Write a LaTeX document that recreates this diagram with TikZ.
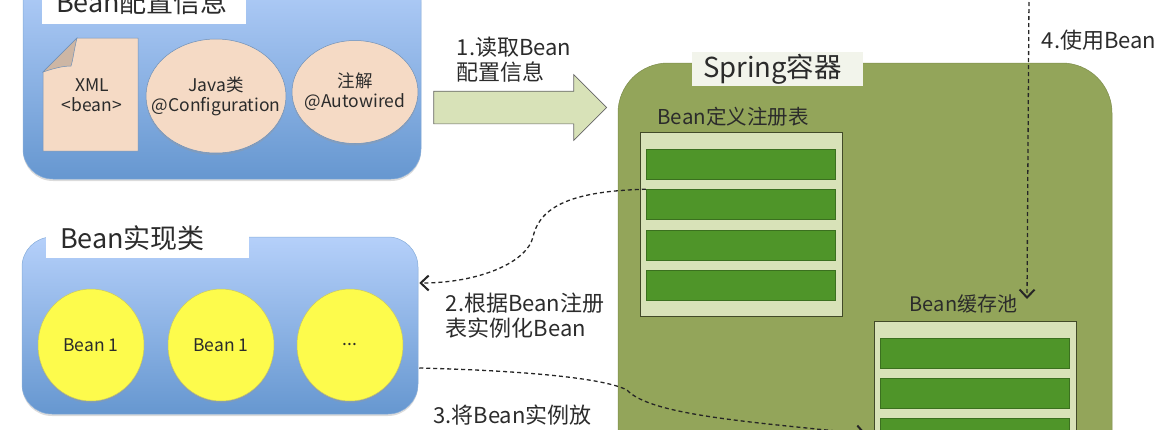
\documentclass[tikz,border=0pt]{standalone}
\usepackage{fontspec}
\setmainfont{Noto Sans CJK SC}
\usetikzlibrary{arrows.meta,shadows,shapes.geometric,shapes.arrows}
\definecolor{boxtop}{HTML}{B5D0FA}
\definecolor{boxbot}{HTML}{6697D0}
\definecolor{skin}{HTML}{F5DAC5}
\definecolor{foldc}{HTML}{CDB6A4}
\definecolor{moss}{HTML}{93A55A}
\definecolor{pale}{HTML}{D8E2B8}
\definecolor{rowgreen}{HTML}{4F9529}
\definecolor{sun}{HTML}{FDFB4C}
\definecolor{ink}{HTML}{2B2B2B}
\newcommand{\fs}[2]{\fontsize{#1}{#2}\selectfont}
\begin{document}
\begin{tikzpicture}[x=1pt,y=-1pt]
\tikzset{
  softshadow/.style={drop shadow={shadow xshift=0pt,shadow yshift=-2pt,fill=black!40,opacity=.35}},
  groupbox/.style={rectangle,rounded corners=30pt,top color=boxtop,bottom color=boxbot,draw=boxbot!80!white,line width=.5pt,inner sep=0pt,softshadow},
  titlebox/.style={rectangle,fill=white,inner ysep=0pt,inner xsep=14pt,align=left,text=ink,font=\fs{27}{32}},
  skinnode/.style={ellipse,fill=skin,draw=boxbot!70!gray,line width=.5pt,inner xsep=-22pt,inner ysep=0pt,align=center,text=ink,font=\fs{17.5}{20},softshadow},
  beannode/.style={ellipse,fill=sun,draw=sun!60!gray,line width=.5pt,minimum width=106pt,minimum height=112pt,inner sep=0pt,text=ink,font=\fs{17.5}{20},softshadow},
  panelbox/.style={rectangle,fill=pale,draw=moss!45!black,line width=.8pt,minimum width=202pt,inner sep=0pt},
  rowbox/.style={rectangle,fill=rowgreen,draw=rowgreen!75!black,line width=.5pt,minimum width=189pt,minimum height=30pt,inner sep=0pt},
  stepnote/.style={align=left,text=ink,font=\fs{22}{25}},
  dashconn/.style={draw=black!85,dashed,dash pattern=on 4pt off 3pt,line width=1.3pt,-{Straight Barb[length=8pt,width=15pt,line width=2pt]}}
}
\path[use as bounding box] (0,0) rectangle (1170,429);
\clip (0,0) rectangle (1170,429);
% config group
\node[groupbox,minimum width=398pt,minimum height=209pt] (config) at (222,74.5) {};
\node[titlebox,text width=176pt,minimum height=44pt] (configtitle) at (144,2) {Bean配置信息};
\draw[fill=skin,draw=boxbot!70!gray,line width=.5pt] (43,72) -- (77,38) -- (138,38) -- (138,151) -- (43,151) -- cycle;
\draw[fill=foldc,draw=boxbot!70!gray,line width=.5pt] (43,72) -- (77,38) .. controls (74,50) and (73,60) .. (71,66) .. controls (62,66) and (52,69) .. (43,72) -- cycle;
\node[align=center,text=ink,font=\fs{17.5}{20}] (xml) at (92,95) {XML\\<bean>};
\node[skinnode,minimum width=140pt,minimum height=114pt] (javaconf) at (216,96) {Java类\\@Configuration};
\node[skinnode,minimum width=126pt,minimum height=103pt] (autowired) at (355,92) {注解\\@Autowired};
% implementation group
\node[groupbox,minimum width=396pt,minimum height=177pt] (impl) at (220,325.5) {};
\node[titlebox,text width=175pt,minimum height=40pt] (impltitle) at (147.5,238) {Bean实现类};
\node[beannode] (beana) at (91,345) {Bean 1};
\node[beannode] (beanb) at (221,345) {Bean 1};
\node[beannode] (beanc) at (350,345) {...};
% read arrow
\node[single arrow,fill=pale,draw=black!60,line width=.7pt,text height=16pt,text depth=16pt,minimum height=173pt,minimum width=65pt,single arrow head extend=16.5pt,single arrow head indent=0pt,inner sep=0pt] (readarrow) at (512,107.5) {};
\node[stepnote] (readnote) at (514,59.5) {1.读取Bean\\配置信息};
% container
\node[rectangle,rounded corners=50pt,fill=moss,draw=moss!85!black,line width=.5pt,minimum width=494pt,minimum height=637pt] (spring) at (865,381.5) {};
\node[titlebox,fill=white!88!moss,inner xsep=11pt,text width=149pt,minimum height=34pt,font=\fs{27.5}{32}] (springtitle) at (777.5,69) {Spring容器};
% definition registry
\node[text=ink,font=\fs{20.5}{24}] (regtitle) at (733,117) {Bean定义注册表};
\node[panelbox,minimum height=184pt] (regpanel) at (741,224) {};
\node[rowbox] (rega) at (740.5,164) {};
\node[rowbox] (regb) at (740.5,204.5) {};
\node[rowbox] (regc) at (740.5,245) {};
\node[rowbox] (regd) at (740.5,285.5) {};
% cache pool
\node[text=ink,font=\fs{20}{24}] (cachetitle) at (963.5,304) {Bean缓存池};
\node[panelbox,minimum height=279pt] (cachepanel) at (975,460.5) {};
\node[rowbox] (cachea) at (974.5,353) {};
\node[rowbox] (cacheb) at (974.5,393) {};
\node[rowbox] (cachec) at (974.5,433) {};
% step notes
\node[stepnote] (instnote) at (525,316) {2.根据Bean注册\\表实例化Bean};
\node[stepnote] (putnote) at (512.5,415) {3.将Bean实例放};
\node[stepnote] (usenote) at (1099,40) {4.使用Bean};
% dashed connectors
\coordinate (clientend) at (1029,-5);
\coordinate (cachetop) at (1027,299);
\coordinate (cachein) at (866,434);
\draw[dashconn] (regb.north west) .. controls (575,191) and (540,205) .. (533,237) .. controls (527,262) and (480,283) .. ([yshift=42.5pt,xshift=1pt]impl.east);
\draw[dashconn] ([yshift=-42.5pt,xshift=1pt]impl.east) .. controls (500,370) and (600,376) .. (627,390) .. controls (650,415) and (750,422) .. (cachein);
\draw[dashconn] (clientend) -- (cachetop);
\end{tikzpicture}
\end{document}
